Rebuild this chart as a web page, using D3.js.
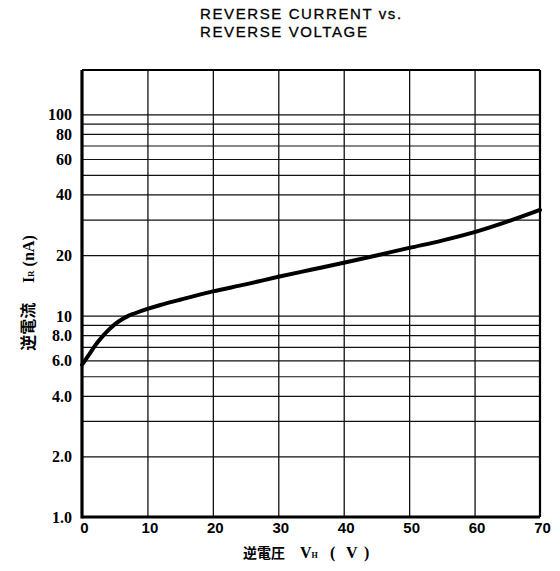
<!DOCTYPE html>
<html lang="ja">
<head>
<meta charset="UTF-8">
<title>Reverse current vs reverse voltage</title>
<script src="https://cdn.jsdelivr.net/npm/d3@7"></script>
<style>
  * { margin: 0; padding: 0; }
  body { background: #fff; }
  .tick text { font-weight: bold; fill: #000; }
</style>
</head>
<body>
<svg></svg>
<script>
  // curve: reverse voltage (V) vs reverse current (nA)
  const voltage = [0, 1, 2, 3, 4, 5, 6, 7, 8, 10, 12, 15, 20, 25, 30, 35, 40, 45, 50, 55, 60, 65, 70];
  const current = [5.7, 6.35, 7.1, 7.8, 8.45, 9.05, 9.55, 9.95, 10.25, 10.8, 11.3, 12.0, 13.2, 14.3, 15.6, 16.9, 18.3, 19.9, 21.7, 23.6, 26.0, 29.3, 33.5];

  const xTicks = [0, 10, 20, 30, 40, 50, 60, 70];
  const yGrid = [2, 3, 4, 5, 6, 7, 8, 9, 10, 20, 30, 40, 50, 60, 70, 80, 90, 100];
  const yTicks = [1, 2, 4, 6, 8, 10, 20, 40, 60, 80, 100];
  const yTickLabels = ['1.0', '2.0', '4.0', '6.0', '8.0', '10', '20', '40', '60', '80', '100'];

  const width = 560, height = 571;
  const svg = d3.select('svg').attr('width', width).attr('height', height);

  const plot = { left: 82, right: 540, top: 70, bottom: 517 };

  const x = d3.scaleLinear().domain([0, 70]).range([plot.left, plot.right]);
  const y = d3.scaleLog().domain([1, 166]).range([plot.bottom, plot.top]);

  // grid
  svg.append('g')
    .attr('transform', `translate(${plot.left},0)`)
    .call(d3.axisLeft(y).tickValues(yGrid).tickSize(-(plot.right - plot.left)).tickFormat(''))
    .call(g => g.select('.domain').remove())
    .call(g => g.selectAll('line').attr('stroke', '#111').attr('stroke-width', 1.2));

  svg.append('g')
    .attr('transform', `translate(0,${plot.bottom})`)
    .call(d3.axisBottom(x).tickValues(xTicks.slice(1, -1)).tickSize(-(plot.bottom - plot.top)).tickFormat(''))
    .call(g => g.select('.domain').remove())
    .call(g => g.selectAll('line').attr('stroke', '#111').attr('stroke-width', 1.3));

  // tick labels
  svg.append('g')
    .attr('transform', `translate(${plot.left - 10},0)`)
    .call(d3.axisLeft(y).tickValues(yTicks).tickSize(0).tickFormat((d, i) => yTickLabels[i]))
    .call(g => g.select('.domain').remove())
    .call(g => g.selectAll('text').attr('font-size', 16).attr('x', 0).attr('dy', '0.34em')
      .attr('font-family', '"Liberation Serif", serif'));

  svg.append('g')
    .attr('transform', `translate(2,${plot.bottom + 2})`)
    .call(d3.axisBottom(x).tickValues(xTicks).tickSize(0).tickFormat(d3.format('d')))
    .call(g => g.select('.domain').remove())
    .call(g => g.selectAll('text').attr('font-size', 15)
      .attr('font-family', '"Liberation Sans Narrow", "Liberation Sans", sans-serif'));

  // frame
  svg.append('line').attr('x1', plot.left).attr('x2', plot.left).attr('y1', plot.top).attr('y2', plot.bottom + 1.5)
    .attr('stroke', '#000').attr('stroke-width', 3.2);
  svg.append('line').attr('x1', plot.left).attr('x2', plot.right).attr('y1', plot.bottom).attr('y2', plot.bottom)
    .attr('stroke', '#000').attr('stroke-width', 3);
  svg.append('line').attr('x1', plot.left).attr('x2', plot.right).attr('y1', plot.top).attr('y2', plot.top)
    .attr('stroke', '#000').attr('stroke-width', 2.2);
  svg.append('line').attr('x1', plot.right).attr('x2', plot.right).attr('y1', plot.top).attr('y2', plot.bottom)
    .attr('stroke', '#000').attr('stroke-width', 2.2);

  // curve
  const pts = voltage.map((v, i) => [v, current[i]]);
  svg.append('path')
    .datum(pts)
    .attr('fill', 'none')
    .attr('stroke', '#000')
    .attr('stroke-width', 4)
    .attr('stroke-linecap', 'round')
    .attr('d', d3.line().x(d => x(d[0])).y(d => y(d[1])).curve(d3.curveCatmullRom.alpha(0.5)));

  // title
  const title = svg.append('text')
    .attr('font-family', '"Liberation Sans", sans-serif')
    .attr('font-size', 15)
    .attr('letter-spacing', 1.6)
    .attr('stroke', '#000').attr('stroke-width', 0.3);
  title.append('tspan').attr('x', 200).attr('y', 19).text('REVERSE CURRENT vs.');
  title.append('tspan').attr('x', 200).attr('y', 37).text('REVERSE VOLTAGE');

  // x axis title
  const xt = svg.append('text')
    .attr('x', 243).attr('y', 558)
    .attr('font-family', '"Noto Sans CJK JP", sans-serif')
    .attr('font-weight', 'bold')
    .attr('font-size', 14);
  xt.append('tspan').text('逆電圧');
  xt.append('tspan').attr('x', 300).attr('font-family', '"Liberation Serif", serif').attr('font-size', 16).text('V');
  xt.append('tspan').attr('font-family', '"Liberation Serif", serif').attr('font-size', 8).text('H');
  xt.append('tspan').attr('x', 330).attr('font-family', '"Liberation Serif", serif').attr('font-size', 16).text('(');
  xt.append('tspan').attr('x', 346).attr('font-family', '"Liberation Serif", serif').attr('font-size', 16).text('V');
  xt.append('tspan').attr('x', 364).attr('font-family', '"Liberation Serif", serif').attr('font-size', 16).text(')');

  // y axis title
  const yt = svg.append('text')
    .attr('transform', 'translate(34,293) rotate(-90)')
    .attr('text-anchor', 'middle')
    .attr('font-family', '"Noto Sans CJK JP", sans-serif')
    .attr('font-weight', 'bold')
    .attr('font-size', 16);
  yt.append('tspan').text('逆電流　 ');
  yt.append('tspan').attr('font-family', '"Liberation Serif", serif').text('I');
  yt.append('tspan').attr('font-family', '"Liberation Serif", serif').attr('font-size', 9).text('R');
  yt.append('tspan').attr('font-family', '"Liberation Serif", serif').text('  (nA)');
</script>
</body>
</html>
